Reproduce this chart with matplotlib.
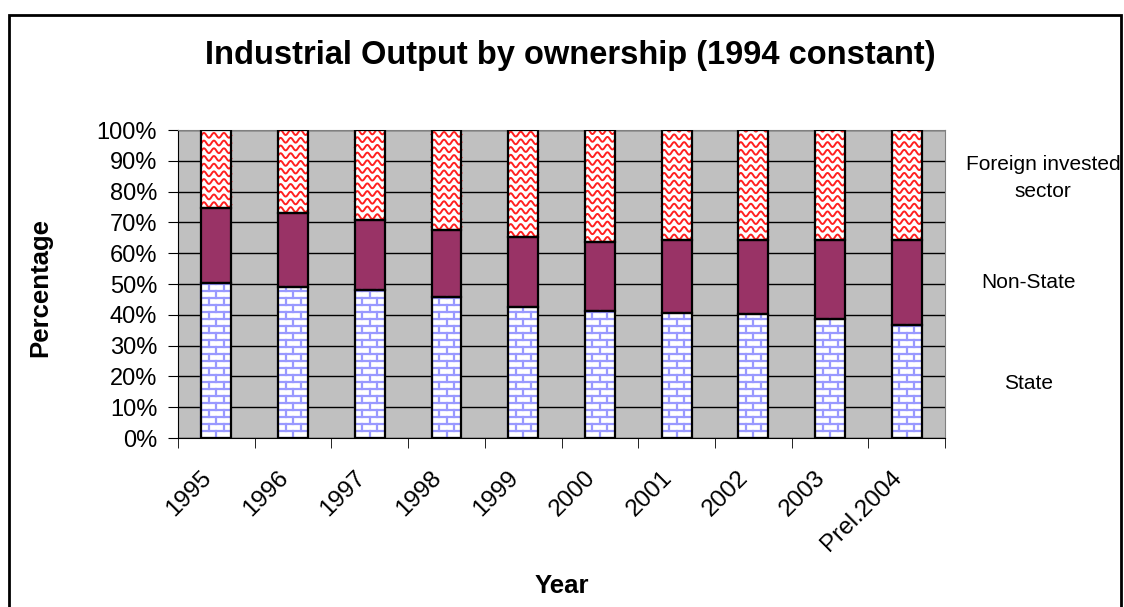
import numpy as np
import matplotlib.pyplot as plt
import matplotlib.transforms as mtransforms
from matplotlib.patches import Rectangle

plt.rcParams['font.family'] = ['Liberation Sans', 'DejaVu Sans']

years = ['1995', '1996', '1997', '1998', '1999', '2000', '2001', '2002', '2003', 'Prel.2004']
state = np.array([50.3, 49.1, 48.0, 45.9, 42.6, 41.2, 40.7, 40.3, 38.6, 36.7])
non_state = np.array([24.5, 24.1, 22.9, 21.7, 22.6, 22.3, 23.6, 24.0, 25.7, 27.6])
foreign = 100 - state - non_state

fig = plt.figure(figsize=(11.24, 6.07), dpi=100)
ax = fig.add_axes([0.1584, 0.2784, 0.6824, 0.5074])

x = np.arange(len(years))
w = 0.39

ax.set_facecolor('#c0c0c0')
ax.set_xlim(-0.5, len(years) - 0.5)
ax.set_ylim(0, 100)
ax.set_yticks(np.arange(0, 101, 10))
ax.set_yticklabels([f'{v}%' for v in range(0, 101, 10)])
ax.yaxis.grid(True, color='black', lw=1)
ax.set_axisbelow(True)

# pixel size of one data unit, for textures
px_x = 1124 * 0.6824 / len(years)
px_y = 607 * 0.5074 / 100


def bricks(patch):
    x0, y0 = patch.get_x(), patch.get_y()
    x1, y1 = x0 + patch.get_width(), y0 + patch.get_height()
    rh = 7.0 / px_y
    bw = 15.0 / px_x
    row = 0
    yy = y0
    while yy < y1:
        ax.plot([x0, x1], [yy, yy], color='#9999ff', lw=1.6, zorder=2.5,
                clip_path=patch, solid_capstyle='butt')
        off = x0 + (bw / 2 if row % 2 else 0)
        xx = off
        while xx < x1:
            ax.plot([xx, xx], [yy, min(yy + rh, y1)], color='#9999ff', lw=1.6,
                    zorder=2.5, clip_path=patch)
            xx += bw
        yy += rh
        row += 1


def waves(patch):
    x0, y0 = patch.get_x(), patch.get_y()
    x1, y1 = x0 + patch.get_width(), y0 + patch.get_height()
    xs = np.linspace(x0, x1, 80)
    ph = (xs - x0) * px_x / 10.0 * 2 * np.pi
    gap = 7.7 / px_y
    amp = 2.4 / px_y
    yy = y0 + 3 / px_y
    while yy < y1 + gap:
        ax.plot(xs, yy + amp * np.sin(ph), color='#ff2020', lw=1.4, zorder=2.5,
                clip_path=patch)
        yy += gap


b1 = ax.bar(x, state, w, color='white', edgecolor='none', zorder=2)
b2 = ax.bar(x, non_state, w, bottom=state, color='#993366', edgecolor='none', zorder=2)
b3 = ax.bar(x, foreign, w, bottom=state + non_state, color='white', edgecolor='none', zorder=2)
for p in b1:
    bricks(p)
for p in b3:
    waves(p)
for bars in (b1, b2, b3):
    for p in bars:
        ax.add_patch(Rectangle((p.get_x(), p.get_y()), p.get_width(), p.get_height(),
                               fill=False, edgecolor='black', lw=1.6, zorder=3))

ax.set_xticks(x)
ax.set_xticklabels(years, rotation=45, ha='right', rotation_mode='anchor', fontsize=17.5)
ax.tick_params(axis='x', length=0, pad=12)
shift = mtransforms.ScaledTranslation(-0.16, -0.12, fig.dpi_scale_trans)
for lbl in ax.get_xticklabels():
    lbl.set_transform(lbl.get_transform() + shift)
ax.set_xticks(np.arange(-0.5, len(years), 1), minor=True)
ax.tick_params(axis='x', which='minor', length=7, color='black')
ax.tick_params(axis='y', labelsize=17, length=7, pad=8, color='black')

for s in ['top', 'right']:
    ax.spines[s].set_color('#808080')
for s in ['left', 'bottom']:
    ax.spines[s].set_color('black')

fig.text(0.507, 0.908, 'Industrial Output by ownership (1994 constant)',
         ha='center', va='center', fontsize=23.5, fontweight='bold')
fig.text(0.036, 0.527, 'Percentage', rotation=90, ha='center', va='center',
         fontsize=18.5, fontweight='bold')
fig.text(0.5, 0.035, 'Year', ha='center', va='center', fontsize=18.5, fontweight='bold')

fig.text(0.928, 0.707, 'Foreign invested\nsector', ha='center', va='center',
         fontsize=15, linespacing=1.55)
fig.text(0.915, 0.534, 'Non-State', ha='center', va='center', fontsize=15)
fig.text(0.915, 0.369, 'State', ha='center', va='center', fontsize=15)

fig.add_artist(Rectangle((9 / 1124, -0.02), 1112 / 1124, 1 - 15 / 607 + 0.02,
                         transform=fig.transFigure, fill=False, edgecolor='black', lw=2))

fig.savefig('out.png', dpi=100)
